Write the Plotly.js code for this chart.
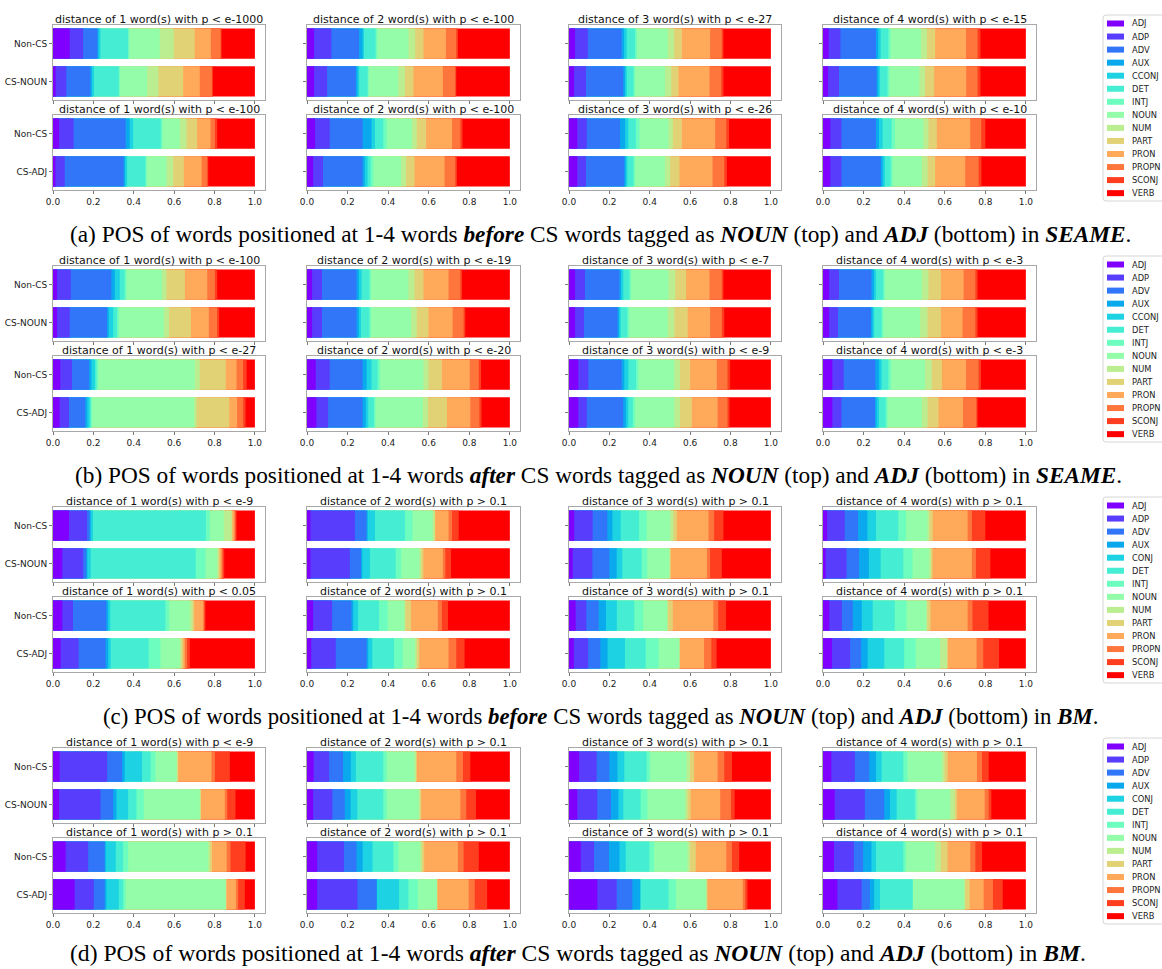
<!DOCTYPE html>
<html>
<head>
<meta charset="utf-8">
<script src="https://cdn.plot.ly/plotly-3.0.1.min.js"></script>
<style>html,body{margin:0;padding:0;background:#fff;}#chart{width:1162px;height:969px;}</style>
</head>
<body>
<div id="chart"></div>
<script>
// ---------------- DATA ----------------
// POS categories (SEAME uses CCONJ, BM uses CONJ)
const categoriesSEAME = ['ADJ','ADP','ADV','AUX','CCONJ','DET','INTJ','NOUN','NUM','PART','PRON','PROPN','SCONJ','VERB'];
const categoriesBM    = ['ADJ','ADP','ADV','AUX','CONJ','DET','INTJ','NOUN','NUM','PART','PRON','PROPN','SCONJ','VERB'];
const barLabels = ['Non-CS', 'CS-NOUN', 'CS-ADJ'];

// Subplot titles (distance 1..4)
const titlesBeforeNounSEAME = ['distance of 1 word(s) with p &lt; e-1000','distance of 2 word(s) with p &lt; e-100','distance of 3 word(s) with p &lt; e-27','distance of 4 word(s) with p &lt; e-15'];
const titlesBeforeAdjSEAME  = ['distance of 1 word(s) with p &lt; e-100','distance of 2 word(s) with p &lt; e-100','distance of 3 word(s) with p &lt; e-26','distance of 4 word(s) with p &lt; e-10'];
const titlesAfterNounSEAME  = ['distance of 1 word(s) with p &lt; e-100','distance of 2 word(s) with p &lt; e-19','distance of 3 word(s) with p &lt; e-7','distance of 4 word(s) with p &lt; e-3'];
const titlesAfterAdjSEAME   = ['distance of 1 word(s) with p &lt; e-27','distance of 2 word(s) with p &lt; e-20','distance of 3 word(s) with p &lt; e-9','distance of 4 word(s) with p &lt; e-3'];
const titlesBeforeNounBM    = ['distance of 1 word(s) with p &lt; e-9','distance of 2 word(s) with p &gt; 0.1','distance of 3 word(s) with p &gt; 0.1','distance of 4 word(s) with p &gt; 0.1'];
const titlesBeforeAdjBM     = ['distance of 1 word(s) with p &lt; 0.05','distance of 2 word(s) with p &gt; 0.1','distance of 3 word(s) with p &gt; 0.1','distance of 4 word(s) with p &gt; 0.1'];
const titlesAfterNounBM     = ['distance of 1 word(s) with p &lt; e-9','distance of 2 word(s) with p &gt; 0.1','distance of 3 word(s) with p &gt; 0.1','distance of 4 word(s) with p &gt; 0.1'];
const titlesAfterAdjBM      = ['distance of 1 word(s) with p &gt; 0.1','distance of 2 word(s) with p &gt; 0.1','distance of 3 word(s) with p &gt; 0.1','distance of 4 word(s) with p &gt; 0.1'];

// Cumulative shares (running total up to and including each POS, ADJ..VERB), one row per distance 1..4
// (a) before, NOUN, SEAME
const cumBeforeNounSEAME_nonCS = [
 [0.083,0.149,0.220,0.225,0.235,0.372,0.377,0.529,0.598,0.702,0.782,0.830,0.835,1],
 [0.035,0.120,0.257,0.274,0.281,0.338,0.346,0.500,0.533,0.574,0.685,0.736,0.744,1],
 [0.030,0.093,0.261,0.273,0.286,0.327,0.336,0.489,0.521,0.559,0.699,0.757,0.765,1],
 [0.028,0.086,0.261,0.272,0.284,0.322,0.333,0.483,0.512,0.553,0.705,0.762,0.776,1]];
const cumBeforeNounSEAME_CS = [
 [0.013,0.066,0.185,0.192,0.203,0.326,0.331,0.466,0.522,0.645,0.727,0.787,0.792,1],
 [0.035,0.099,0.241,0.249,0.257,0.299,0.304,0.450,0.483,0.525,0.670,0.731,0.736,1],
 [0.025,0.084,0.269,0.278,0.286,0.319,0.327,0.476,0.506,0.542,0.696,0.754,0.765,1],
 [0.025,0.079,0.264,0.272,0.281,0.318,0.327,0.475,0.503,0.548,0.706,0.762,0.776,1]];
// (a) before, ADJ, SEAME
const cumBeforeAdjSEAME_nonCS = [
 [0.030,0.102,0.360,0.380,0.397,0.534,0.542,0.628,0.661,0.714,0.780,0.802,0.813,1],
 [0.040,0.112,0.274,0.318,0.335,0.376,0.393,0.517,0.541,0.587,0.715,0.756,0.767,1],
 [0.041,0.088,0.253,0.278,0.294,0.331,0.349,0.493,0.514,0.559,0.724,0.779,0.793,1],
 [0.036,0.091,0.261,0.276,0.294,0.338,0.355,0.495,0.520,0.561,0.726,0.780,0.800,1]];
const cumBeforeAdjSEAME_CS = [
 [0.012,0.058,0.350,0.357,0.367,0.458,0.463,0.562,0.595,0.648,0.736,0.764,0.769,1],
 [0.030,0.079,0.274,0.285,0.299,0.314,0.327,0.464,0.488,0.530,0.678,0.731,0.739,1],
 [0.041,0.084,0.274,0.281,0.289,0.319,0.327,0.476,0.501,0.547,0.711,0.769,0.782,1],
 [0.036,0.091,0.285,0.294,0.305,0.333,0.343,0.487,0.515,0.553,0.701,0.767,0.781,1]];
// (b) after, NOUN, SEAME
const cumAfterNounSEAME_nonCS = [
 [0.020,0.088,0.289,0.306,0.331,0.355,0.364,0.540,0.562,0.653,0.764,0.802,0.813,1],
 [0.025,0.074,0.244,0.256,0.269,0.307,0.315,0.500,0.530,0.574,0.698,0.756,0.764,1],
 [0.030,0.079,0.250,0.258,0.269,0.299,0.307,0.493,0.526,0.580,0.696,0.757,0.765,1],
 [0.030,0.079,0.239,0.251,0.261,0.297,0.305,0.487,0.520,0.581,0.693,0.751,0.762,1]];
const cumAfterNounSEAME_CS = [
 [0.020,0.083,0.268,0.276,0.298,0.317,0.326,0.549,0.575,0.683,0.772,0.813,0.823,1],
 [0.025,0.074,0.244,0.256,0.266,0.307,0.315,0.513,0.541,0.599,0.718,0.772,0.780,1],
 [0.030,0.074,0.241,0.248,0.256,0.289,0.298,0.489,0.522,0.588,0.699,0.757,0.769,1],
 [0.030,0.074,0.236,0.244,0.252,0.289,0.297,0.479,0.515,0.581,0.688,0.751,0.762,1]];
// (b) after, ADJ, SEAME
const cumAfterAdjSEAME_nonCS = [
 [0.036,0.094,0.179,0.190,0.207,0.215,0.223,0.702,0.727,0.856,0.909,0.942,0.959,1],
 [0.043,0.112,0.274,0.294,0.318,0.348,0.360,0.574,0.599,0.665,0.802,0.847,0.858,1],
 [0.046,0.096,0.261,0.274,0.294,0.332,0.344,0.521,0.550,0.600,0.732,0.785,0.798,1],
 [0.046,0.102,0.259,0.277,0.289,0.322,0.335,0.503,0.536,0.586,0.705,0.767,0.779,1]];
const cumAfterAdjSEAME_CS = [
 [0.033,0.079,0.160,0.170,0.182,0.187,0.193,0.699,0.711,0.873,0.912,0.942,0.954,1],
 [0.046,0.104,0.274,0.290,0.302,0.330,0.338,0.571,0.596,0.690,0.805,0.850,0.860,1],
 [0.046,0.088,0.269,0.283,0.294,0.316,0.327,0.521,0.550,0.608,0.736,0.785,0.795,1],
 [0.046,0.091,0.256,0.264,0.276,0.309,0.318,0.487,0.515,0.569,0.690,0.756,0.762,1]];
// (c) before, NOUN, BM
const cumBeforeNounBM_nonCS = [
 [0.079,0.169,0.182,0.187,0.198,0.757,0.777,0.846,0.884,0.889,0.898,0.904,0.909,1],
 [0.017,0.236,0.294,0.299,0.335,0.483,0.520,0.620,0.629,0.632,0.698,0.715,0.748,1],
 [0.026,0.117,0.190,0.215,0.256,0.347,0.385,0.501,0.517,0.534,0.691,0.719,0.765,1],
 [0.020,0.107,0.173,0.219,0.261,0.371,0.409,0.515,0.525,0.541,0.713,0.734,0.800,1]];
const cumBeforeNounBM_CS = [
 [0.046,0.149,0.165,0.170,0.187,0.707,0.755,0.813,0.820,0.826,0.835,0.840,0.848,1],
 [0.017,0.211,0.266,0.272,0.310,0.437,0.464,0.554,0.563,0.574,0.670,0.682,0.710,1],
 [0.018,0.116,0.200,0.236,0.264,0.360,0.388,0.496,0.501,0.504,0.683,0.699,0.757,1],
 [0.013,0.116,0.178,0.226,0.284,0.396,0.441,0.523,0.533,0.540,0.734,0.754,0.825,1]];
// (c) before, ADJ, BM
const cumBeforeAdjBM_nonCS = [
 [0.046,0.099,0.264,0.273,0.284,0.557,0.575,0.678,0.691,0.699,0.744,0.749,0.755,1],
 [0.030,0.124,0.219,0.228,0.252,0.355,0.398,0.480,0.485,0.513,0.645,0.665,0.695,1],
 [0.033,0.086,0.147,0.183,0.237,0.323,0.367,0.486,0.490,0.514,0.715,0.739,0.778,1],
 [0.031,0.093,0.147,0.191,0.245,0.354,0.411,0.509,0.514,0.530,0.713,0.737,0.816,1]];
const cumBeforeAdjBM_CS = [
 [0.038,0.127,0.261,0.273,0.286,0.474,0.532,0.628,0.636,0.645,0.653,0.664,0.678,1],
 [0.021,0.142,0.294,0.302,0.322,0.429,0.472,0.533,0.541,0.554,0.698,0.736,0.777,1],
 [0.024,0.095,0.155,0.191,0.277,0.380,0.444,0.547,0.547,0.547,0.669,0.705,0.731,1],
 [0.044,0.134,0.188,0.220,0.302,0.400,0.457,0.577,0.612,0.615,0.757,0.790,0.868,1]];
// (d) after, NOUN, BM
const cumAfterNounBM_nonCS = [
 [0.033,0.268,0.342,0.355,0.441,0.483,0.507,0.612,0.617,0.620,0.785,0.802,0.876,1],
 [0.033,0.109,0.178,0.216,0.241,0.376,0.393,0.530,0.538,0.541,0.736,0.769,0.805,1],
 [0.050,0.137,0.200,0.240,0.274,0.385,0.402,0.583,0.600,0.620,0.736,0.769,0.807,1],
 [0.041,0.157,0.228,0.261,0.289,0.396,0.416,0.586,0.599,0.614,0.759,0.784,0.817,1]];
const cumAfterNounBM_CS = [
 [0.030,0.235,0.298,0.314,0.372,0.413,0.450,0.727,0.731,0.732,0.851,0.863,0.904,1],
 [0.030,0.125,0.186,0.215,0.248,0.376,0.393,0.550,0.558,0.563,0.756,0.785,0.833,1],
 [0.041,0.140,0.208,0.245,0.269,0.355,0.388,0.575,0.587,0.603,0.749,0.802,0.820,1],
 [0.058,0.206,0.302,0.330,0.363,0.454,0.465,0.627,0.649,0.660,0.797,0.817,0.830,1]];
// (d) after, ADJ, BM
const cumAfterAdjBM_nonCS = [
 [0.063,0.174,0.256,0.261,0.311,0.347,0.372,0.769,0.777,0.788,0.860,0.879,0.954,1],
 [0.050,0.182,0.244,0.274,0.323,0.426,0.450,0.558,0.566,0.578,0.744,0.772,0.847,1],
 [0.058,0.124,0.198,0.250,0.281,0.398,0.421,0.587,0.600,0.628,0.779,0.807,0.843,1],
 [0.054,0.152,0.198,0.239,0.261,0.396,0.409,0.553,0.581,0.614,0.726,0.751,0.784,1]];
const cumAfterAdjBM_CS = [
 [0.107,0.202,0.256,0.264,0.326,0.347,0.359,0.855,0.856,0.860,0.906,0.917,0.950,1],
 [0.050,0.249,0.343,0.345,0.454,0.500,0.546,0.640,0.641,0.644,0.797,0.827,0.888,1],
 [0.140,0.236,0.314,0.352,0.355,0.493,0.529,0.678,0.683,0.686,0.861,0.873,0.884,1],
 [0.071,0.190,0.231,0.252,0.281,0.442,0.442,0.696,0.701,0.723,0.792,0.838,0.886,1]];

const captionA = '(a) POS of words positioned at 1-4 words <b><i>before</i></b> CS words tagged as <b><i>NOUN</i></b> (top) and <b><i>ADJ</i></b> (bottom) in <b><i>SEAME</i></b>.';
const captionB = '(b) POS of words positioned at 1-4 words <b><i>after</i></b> CS words tagged as <b><i>NOUN</i></b> (top) and <b><i>ADJ</i></b> (bottom) in <b><i>SEAME</i></b>.';
const captionC = '(c) POS of words positioned at 1-4 words <b><i>before</i></b> CS words tagged as <b><i>NOUN</i></b> (top) and <b><i>ADJ</i></b> (bottom) in <b><i>BM</i></b>.';
const captionD = '(d) POS of words positioned at 1-4 words <b><i>after</i></b> CS words tagged as <b><i>NOUN</i></b> (top) and <b><i>ADJ</i></b> (bottom) in <b><i>BM</i></b>.';

// ---------------- STYLE ----------------
const posColors = ['#8000ff','#583dfd','#3176f8','#0aa9ee','#1dd2e2','#45eed2','#6cfdbf','#93fda9','#baee91','#e2d276','#ffa95a','#ff763d','#ff3d1f','#ff0000'];

const W = 1162, H = 969;
const colX = [[53,265],[307,520],[569,781],[823,1036]];
const panelTop = [0,241,482,723];
const rowFrame = [[25,100],[115,190]];
const rowTitleY = [19,109.5];
const captionX = [68,73,101,68];
const captionY = [234,475,716,953];
const captionSize = [23.3,23.3,22.8,23.6];

const panels = [
  {cats: categoriesSEAME, caption: captionA, rows: [
    {label: barLabels[1], titles: titlesBeforeNounSEAME, non: cumBeforeNounSEAME_nonCS, cs: cumBeforeNounSEAME_CS},
    {label: barLabels[2], titles: titlesBeforeAdjSEAME,  non: cumBeforeAdjSEAME_nonCS,  cs: cumBeforeAdjSEAME_CS}]},
  {cats: categoriesSEAME, caption: captionB, rows: [
    {label: barLabels[1], titles: titlesAfterNounSEAME, non: cumAfterNounSEAME_nonCS, cs: cumAfterNounSEAME_CS},
    {label: barLabels[2], titles: titlesAfterAdjSEAME,  non: cumAfterAdjSEAME_nonCS,  cs: cumAfterAdjSEAME_CS}]},
  {cats: categoriesBM, caption: captionC, rows: [
    {label: barLabels[1], titles: titlesBeforeNounBM, non: cumBeforeNounBM_nonCS, cs: cumBeforeNounBM_CS},
    {label: barLabels[2], titles: titlesBeforeAdjBM,  non: cumBeforeAdjBM_nonCS,  cs: cumBeforeAdjBM_CS}]},
  {cats: categoriesBM, caption: captionD, rows: [
    {label: barLabels[1], titles: titlesAfterNounBM, non: cumAfterNounBM_nonCS, cs: cumAfterNounBM_CS},
    {label: barLabels[2], titles: titlesAfterAdjBM,  non: cumAfterAdjBM_nonCS,  cs: cumAfterAdjBM_CS}]}
];

const px = v => v / W;
const py = v => 1 - v / H;
const tickFont = {family: 'DejaVu Sans', size: 9, color: '#222'};
const frameColor = '#a8a8a8';

const traces = [];
const layout = {
  width: W, height: H,
  margin: {l: 0, r: 0, t: 0, b: 0, pad: 0},
  paper_bgcolor: '#ffffff', plot_bgcolor: '#ffffff',
  showlegend: false,
  barmode: 'overlay',
  font: {family: 'DejaVu Sans', size: 10, color: '#222'},
  annotations: [], shapes: []
};

let k = 0;
panels.forEach((panel, p) => {
  const B = panelTop[p];
  panel.rows.forEach((row, r) => {
    for (let c = 0; c < 4; c++) {
      k++;
      const xa = 'xaxis' + (k === 1 ? '' : k), ya = 'yaxis' + (k === 1 ? '' : k);
      const xr = 'x' + (k === 1 ? '' : k), yr = 'y' + (k === 1 ? '' : k);
      const top = B + rowFrame[r][0], bot = B + rowFrame[r][1];
      layout[xa] = {
        domain: [px(colX[c][0]), px(colX[c][1])], anchor: yr,
        range: [0, 1.05], fixedrange: true,
        tickmode: 'array', tickvals: [0, 0.2, 0.4, 0.6, 0.8, 1.0], tickformat: '.1f',
        showticklabels: r === 1, tickfont: tickFont,
        ticks: 'outside', ticklen: 3, tickwidth: 0.8, tickcolor: '#555',
        showline: true, mirror: true, linecolor: frameColor, linewidth: 1,
        showgrid: false, zeroline: false
      };
      layout[ya] = {
        domain: [py(bot), py(top)], anchor: xr,
        range: [-0.49, 1.49], fixedrange: true,
        tickmode: 'array', tickvals: [1, 0], ticktext: [barLabels[0], row.label],
        showticklabels: c === 0, tickfont: tickFont,
        ticks: 'outside', ticklen: 3, tickwidth: 0.8, tickcolor: '#555',
        showline: true, mirror: true, linecolor: frameColor, linewidth: 1,
        showgrid: false, zeroline: false
      };
      // overlay cumulative bars: VERB (full) first, ADJ last on top
      for (let i = panel.cats.length - 1; i >= 0; i--) {
        traces.push({
          type: 'bar', orientation: 'h',
          name: panel.cats[i],
          x: [row.non[c][i], row.cs[c][i]],
          y: [1, 0], base: 0, width: 0.8,
          xaxis: xr, yaxis: yr,
          marker: {color: posColors[i], opacity: 1, line: {width: 0}},
          hoverinfo: 'skip', showlegend: false
        });
      }
      layout.annotations.push({
        xref: 'paper', yref: 'paper',
        x: px((colX[c][0] + colX[c][1]) / 2), y: py(B + rowTitleY[r]),
        xanchor: 'center', yanchor: 'middle', showarrow: false,
        text: row.titles[c],
        font: {family: 'DejaVu Sans', size: 11, color: '#111'}
      });
    }
  });
  // legend key for this panel
  const lx0 = 1103, lTop = B + 15, lBot = B + 201, rr = 3;
  layout.shapes.push({
    type: 'path', xref: 'paper', yref: 'paper',
    path: `M ${px(1175)} ${py(lTop)} L ${px(lx0 + rr)} ${py(lTop)} Q ${px(lx0)} ${py(lTop)} ${px(lx0)} ${py(lTop + rr)} L ${px(lx0)} ${py(lBot - rr)} Q ${px(lx0)} ${py(lBot)} ${px(lx0 + rr)} ${py(lBot)} L ${px(1175)} ${py(lBot)}`,
    line: {color: '#d6d6d6', width: 1}, fillcolor: 'rgba(0,0,0,0)'
  });
  panel.cats.forEach((cat, i) => {
    const cy = B + 23.5 + 13.05 * i;
    layout.shapes.push({
      type: 'rect', xref: 'paper', yref: 'paper',
      x0: px(1107), x1: px(1124), y0: py(cy + 3), y1: py(cy - 3),
      fillcolor: posColors[i], line: {width: 0}
    });
    layout.annotations.push({
      xref: 'paper', yref: 'paper', x: px(1130), y: py(cy),
      xanchor: 'left', yanchor: 'middle', showarrow: false,
      text: cat, font: {family: 'DejaVu Sans', size: 8.3, color: '#222'}
    });
  });
  // caption
  layout.annotations.push({
    xref: 'paper', yref: 'paper', x: px(captionX[p]), y: py(captionY[p]),
    xanchor: 'left', yanchor: 'middle', showarrow: false,
    text: panel.caption,
    font: {family: 'Liberation Serif', size: captionSize[p], color: '#000'}
  });
});

Plotly.newPlot('chart', traces, layout, {displayModeBar: false, staticPlot: true});
</script>
</body>
</html>
